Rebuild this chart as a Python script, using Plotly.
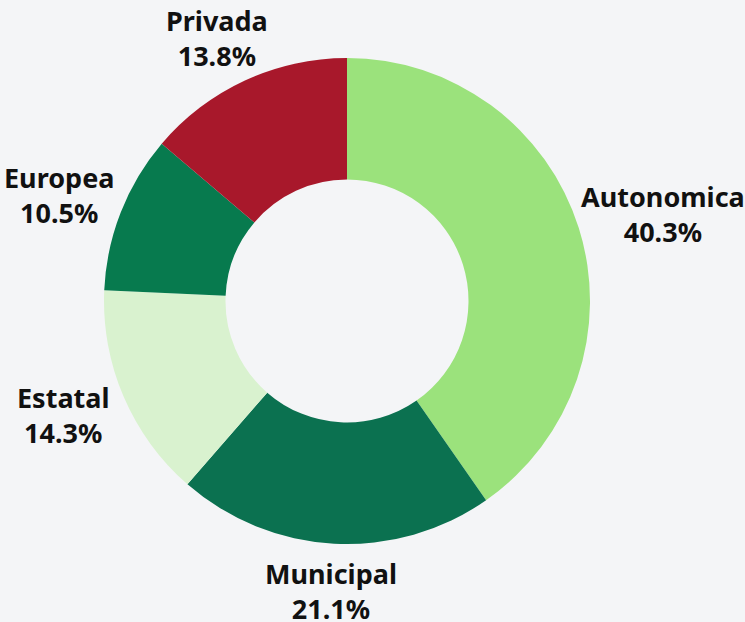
import math
import plotly.graph_objects as go

labels = ["Autonomica", "Municipal", "Estatal", "Europea", "Privada"]
values = [40.3, 21.1, 14.3, 10.5, 13.8]
colors = ["#9be27c", "#0b7150", "#d9f2cf", "#077a4e", "#a8182b"]

W, H = 745, 622
cx, cy, R = 347, 301, 243  # pie centre / radius in pixels
dom_x = [(cx - R) / W, (cx + R) / W]
dom_y = [(H - cy - R) / H, (H - cy + R) / H]

fig = go.Figure(go.Pie(
    labels=labels, values=values, hole=0.5, sort=False,
    direction="clockwise", rotation=0,
    marker=dict(colors=colors, line=dict(width=0)),
    textinfo="none", hoverinfo="label+percent",
    domain=dict(x=dom_x, y=dom_y), showlegend=False,
))

total = sum(values)
cum = 0.0
rx, ry, shift = 320, 290, 11
for lab, v in zip(labels, values):
    mid = (cum + v / 2) / total * 2 * math.pi
    cum += v
    s = math.sin(mid)
    px = cx + rx * s + shift * abs(s)
    py = (H - cy) + ry * math.cos(mid)
    fig.add_annotation(
        x=px / W, y=py / H, xref="paper", yref="paper",
        text=f"<b>{lab}</b><br><b>{v / total * 100:.1f}%</b>",
        showarrow=False, xanchor="center", yanchor="middle",
        font=dict(family="Noto Sans", size=27, color="#111111"),
    )

fig.update_layout(
    width=W, height=H, margin=dict(l=0, r=0, t=0, b=0),
    paper_bgcolor="#f4f5f7", plot_bgcolor="#f4f5f7",
)
fig.write_html("out.html", config={"displayModeBar": False})

with open("out.html", encoding="utf-8") as f:
    html = f.read()
html = html.replace("<head>", "<head><style>html,body{margin:0;padding:0;overflow:hidden;background:#f4f5f7}</style>", 1)
with open("out.html", "w", encoding="utf-8") as f:
    f.write(html)
